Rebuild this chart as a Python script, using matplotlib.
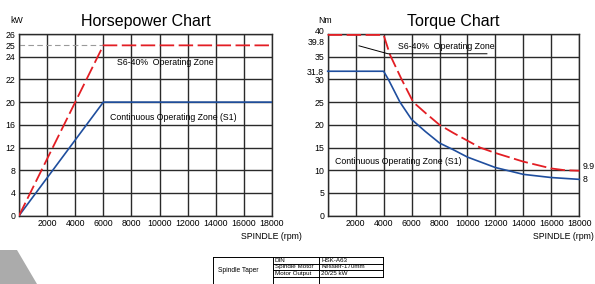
import matplotlib.pyplot as plt
import numpy as np
from matplotlib.patches import Polygon

plt.rcParams['font.family'] = ['Liberation Sans', 'DejaVu Sans']

# horsepower chart data (kW vs spindle rpm)
hp_rpm = [0, 6000, 18000]
hp_s1 = [0, 20, 20]
hp_s6 = [0, 25, 25]
hp_grid = [0, 4, 8, 12, 16, 20, 22, 24, 26]
hp_ticks = [0, 4, 8, 12, 16, 20, 22, 24, 25, 26]

# torque chart data (Nm vs spindle rpm)
tq_rpm_s6 = [0, 4000, 4460, 5290, 6120, 7000, 8000, 9000, 10900, 12000, 14000, 16000, 17000, 18000]
tq_s6 = [39.8, 39.8, 35.4, 30, 25, 22.6, 20, 18.2, 15, 13.8, 11.9, 10.4, 10.0, 9.9]
tq_rpm_s1 = [0, 4000, 4340, 5170, 6000, 7000, 8000, 9000, 10000, 12000, 14000, 16000, 18000]
tq_s1 = [31.8, 31.8, 30, 25, 21.2, 18.5, 16, 14.5, 12.9, 10.6, 9.1, 8.4, 8.0]
tq_grid = [0, 5, 10, 15, 20, 25, 30, 35, 40]
tq_ticks = [0, 5, 10, 15, 20, 25, 30, 31.8, 35]

rpm_grid = np.arange(0, 18001, 2000)
rpm_ticks = np.arange(2000, 18001, 2000)

table_rows = [('DIN', 'HSK-A63'), ('Spindle Motor', 'Kessler-170mm'), ('Motor Output', '20/25 kW')]

RED = '#e31e24'
BLUE = '#1f4e9e'
GRID = '#2a2a2a'
FS = 6.3

W, H = 595, 284
fig = plt.figure(figsize=(W / 100, H / 100), dpi=100)


def px_rect(x0, y0, x1, y1):
    return [x0 / W, 1 - y1 / H, (x1 - x0) / W, (y1 - y0) / H]


def style_axes(ax, grid_vals, title, unit, unit_x, spindle_x):
    ax.set_xlim(0, 18000)
    ax.set_xticks(rpm_ticks)
    ax.set_xticklabels([str(v) for v in rpm_ticks])
    for v in rpm_grid:
        ax.axvline(v, color=GRID, lw=1.0, zorder=1)
    for v in grid_vals:
        ax.axhline(v, color=GRID, lw=1.0, zorder=1)
    for s in ax.spines.values():
        s.set_color(GRID)
        s.set_linewidth(1.0)
    ax.tick_params(length=0, labelsize=FS, pad=2.5)
    ax.set_title(title, fontsize=11.5, pad=6)
    ax.text(unit_x, 1.077, unit, transform=ax.transAxes, fontsize=FS, ha='center', va='center')
    ax.text(spindle_x, -0.112, 'SPINDLE (rpm)', transform=ax.transAxes, fontsize=FS, ha='right', va='center')


# ---- Horsepower chart ----
ax1 = fig.add_axes(px_rect(19, 34, 272, 215.7))
idx = np.arange(len(hp_grid))
ax1.set_yscale('function', functions=(lambda v: np.interp(v, hp_grid, idx),
                                      lambda p: np.interp(p, idx, hp_grid)))
ax1.set_ylim(0, 26)
ax1.set_yticks(hp_ticks)
ax1.set_yticklabels([str(v) for v in hp_ticks])
style_axes(ax1, hp_grid, 'Horsepower Chart', 'kW', -0.01, 1.12)
ax1.plot([0, 6000], [25, 25], color='#9a9a9a', lw=0.8, dashes=(5, 3), zorder=2)
ax1.plot(hp_rpm, hp_s1, color=BLUE, lw=1.2, zorder=3)
ax1.plot(hp_rpm, hp_s6, color=RED, lw=1.3, dashes=(8, 2.5), zorder=3)
ax1.text(6970, 23.5, 'S6-40%  Operating Zone', fontsize=FS, va='center')
ax1.text(6470, 17.25, 'Continuous Operating Zone (S1)', fontsize=FS, va='center')

# ---- Torque chart ----
ax2 = fig.add_axes(px_rect(327.7, 34, 579.3, 215.7))
ax2.set_ylim(0, 40)
ax2.set_yticks(tq_ticks)
ax2.set_yticklabels([str(v) for v in tq_ticks])
style_axes(ax2, tq_grid, 'Torque Chart', 'Nm', -0.01, 1.058)
# 40 and 39.8 labels are stacked at the top of the axis
ax2.text(-0.012, 40.5, '40', transform=ax2.get_yaxis_transform(), fontsize=FS,
         ha='right', va='center')
ax2.text(-0.012, 38.1, '39.8', transform=ax2.get_yaxis_transform(), fontsize=FS,
         ha='right', va='center')
ax2.plot(tq_rpm_s1, tq_s1, color=BLUE, lw=1.2, zorder=3, clip_on=False)
ax2.plot(tq_rpm_s6, tq_s6, color=RED, lw=1.3, dashes=(8, 2.5), zorder=3, clip_on=False)
ax2.plot([2240, 4310, 11390], [37.4, 35.65, 35.65], color='black', lw=0.7, zorder=4)
ax2.text(5030, 37.3, 'S6-40%  Operating Zone', fontsize=FS, va='center')
ax2.text(520, 11.9, 'Continuous Operating Zone (S1)', fontsize=FS, va='center')
ax2.text(18250, 9.9, '9.9', fontsize=FS, va='bottom', clip_on=False)
ax2.text(18250, 8.0, '8', fontsize=FS, va='center', clip_on=False)

# ---- decoration and spec table ----
fig.patches.append(Polygon([(0, 1 - 250 / H), (17 / W, 1 - 250 / H), (37 / W, 0), (0, 0)],
                           closed=True, transform=fig.transFigure, color='#ababab', lw=0))

tx = [212.5, 273.3, 319, 383]
ty = [257, 263.5, 270, 276.5]
lk = dict(transform=fig.transFigure, color='black', lw=0.7)
fig.add_artist(plt.Line2D([tx[0] / W, tx[3] / W], [1 - ty[0] / H] * 2, **lk))
for y in ty[1:]:
    fig.add_artist(plt.Line2D([tx[1] / W, tx[3] / W], [1 - y / H] * 2, **lk))
for x in tx[:3]:
    fig.add_artist(plt.Line2D([x / W] * 2, [1 - ty[0] / H, 0], **lk))
fig.add_artist(plt.Line2D([tx[3] / W] * 2, [1 - ty[0] / H, 1 - ty[3] / H], **lk))
fig.text((tx[0] + 5) / W, 1 - 270 / H, 'Spindle Taper', fontsize=4.8, va='center')
for i, (k, v) in enumerate(table_rows):
    yc = 1 - (ty[i] + ty[i + 1]) / 2 / H
    fig.text((tx[1] + 1.5) / W, yc, k, fontsize=4.5, va='center')
    fig.text((tx[2] + 2) / W, yc, v, fontsize=4.5, va='center')

fig.savefig('out.png', dpi=100)
